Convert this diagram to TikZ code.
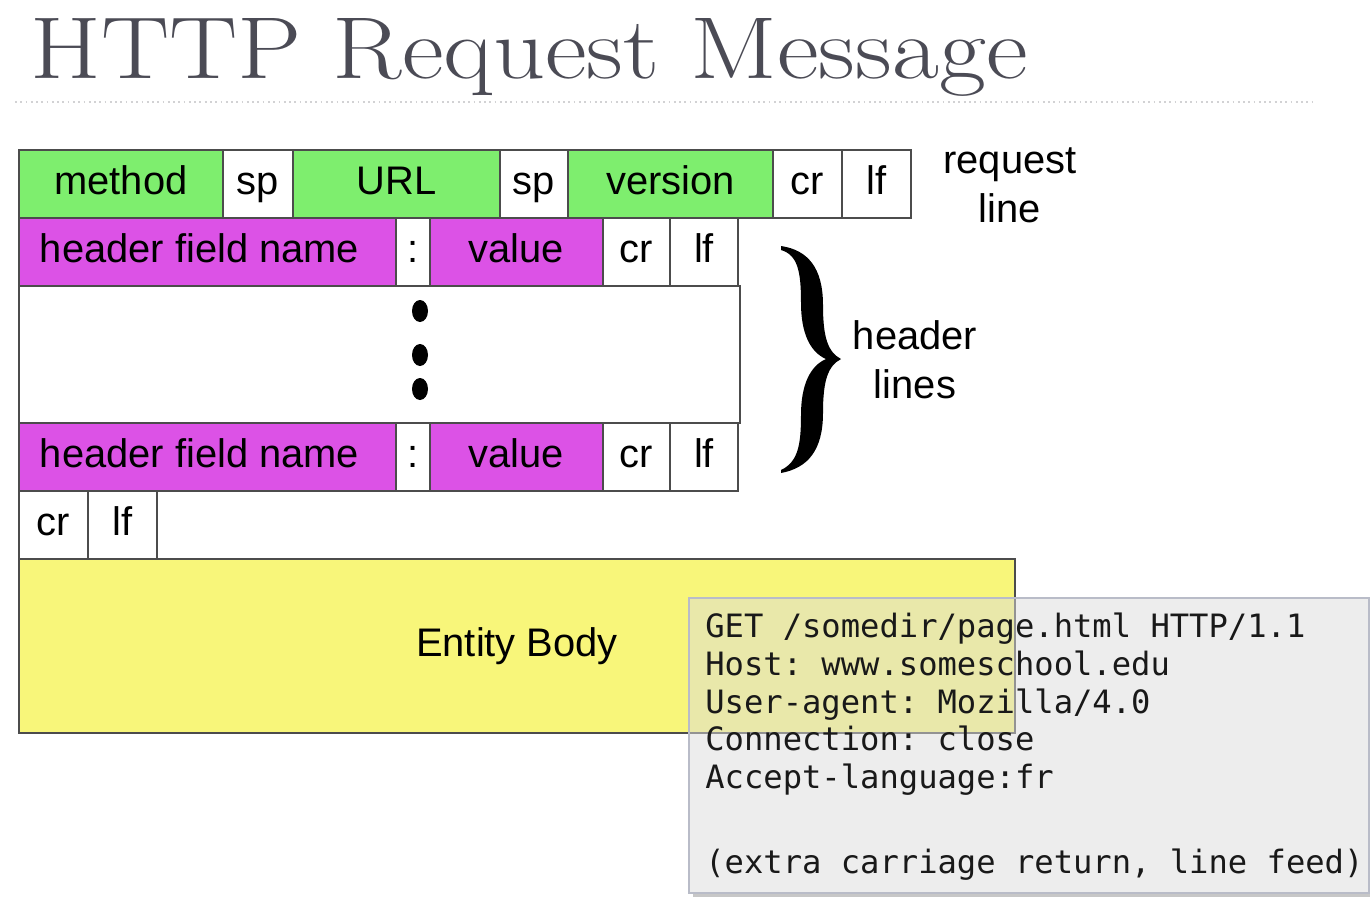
\documentclass[tikz,border=0pt]{standalone}
\usepackage{fontspec}
\usepackage{graphicx}
\newfontfamily\labelfont{Liberation Sans}
\newfontfamily\codefont{DejaVu Sans Mono}
\newcommand\labelsize{\fontsize{22.7}{28.3}\selectfont}
\definecolor{fieldgreen}{RGB}{126,238,110}
\definecolor{fieldpink}{RGB}{220,82,230}
\definecolor{bodyyellow}{RGB}{248,246,122}
\definecolor{titlegray}{RGB}{75,75,85}
\definecolor{codeedge}{RGB}{185,188,200}
\frenchspacing

\begin{document}
\begin{tikzpicture}[x=0.02cm, y=-0.02cm,
    cell/.style={draw=black!70, line width=0.8pt, minimum height=1.36cm,
      inner sep=0pt, outer sep=0pt, anchor=west,
      text height=17pt, text depth=5.2pt, font=\labelfont\labelsize},
    wd/.style={minimum width=#1*0.02cm},
    sidenote/.style={inner sep=0pt, align=center, font=\labelfont\labelsize}]
  \useasboundingbox (0,0) rectangle (1370,904);

  % title and rule
  \node[anchor=base west, inner sep=0pt, text=titlegray,
    font=\fontsize{50}{60}\selectfont] (title) at (30,78)
    {\scalebox{1.163}[1]{HTTP Request Message}};
  \draw[titlegray!25, line width=1pt, dotted] (15,102) -- (1315,102);

  % request line
  \node[cell, wd=204, fill=fieldgreen] (method) at (19,184) {method};
  \node[cell, wd=70] (sp1) at (223,184) {sp};
  \node[cell, wd=207, fill=fieldgreen] (url) at (293,184) {URL};
  \node[cell, wd=68] (sp2) at (500,184) {sp};
  \node[cell, wd=205, fill=fieldgreen] (version) at (568,184) {version};
  \node[cell, wd=69] (cr1) at (773,184) {cr};
  \node[cell, wd=69] (lf1) at (842,184) {lf};
  \node[sidenote, anchor=north] (reqline) at (1010,147) {request\\line};

  % header lines
  \foreach \row/\y in {first/252, last/457} {
    \node[cell, wd=377, fill=fieldpink] (name-\row) at (19,\y) {header field name\kern9pt};
    \node[cell, wd=34] (colon-\row) at (396,\y) {:};
    \node[cell, wd=173, fill=fieldpink] (value-\row) at (430,\y) {value};
    \node[cell, wd=67] (cr-\row) at (603,\y) {cr};
    \node[cell, wd=68] (lf-\row) at (670,\y) {lf};
  }
  \node[draw=black!70, line width=0.8pt, minimum width=721*0.02cm,
    minimum height=137*0.02cm, inner sep=0pt, outer sep=0pt,
    anchor=north west] (more) at (19,286) {};
  \foreach \y in {311,355,389}
    \fill (420,\y) ellipse [x radius=8, y radius=11];

  % brace
  \fill (781,246) .. controls (808,250) and (823,268) .. (823,305)
    .. controls (823,338) and (828,352) .. (841,359)
    .. controls (828,366) and (823,380) .. (823,413)
    .. controls (823,450) and (808,468) .. (781,473) -- (781,470)
    .. controls (798,462) and (801,445) .. (801,415)
    .. controls (801,385) and (810,366) .. (826,359)
    .. controls (810,352) and (801,333) .. (801,303)
    .. controls (801,272) and (798,255) .. (781,250) -- cycle;
  \node[sidenote, anchor=north] (hdrlines) at (915,320) {header\\lines};

  % blank line and body
  \node[cell, wd=69] (cr2) at (19,525) {cr};
  \node[cell, wd=69] (lf2) at (88,525) {lf};
  \node[cell, wd=996, minimum height=174*0.02cm, fill=bodyyellow,
    anchor=north west] (body) at (19,559) {Entity Body};

  % example request
  \fill[black!22] (693,893) rectangle (1370,897);
  \node[fill=black!14, fill opacity=0.5, draw=codeedge, line width=1pt,
    minimum width=680*0.02cm, minimum height=295*0.02cm, inner sep=0pt,
    outer sep=0pt, anchor=north west] (req) at (689,598) {};
  \node[anchor=north west, inner sep=0pt, align=left, text=black!90,
    font=\codefont\fontsize{18.3}{21.5}\selectfont] (reqtext) at (705,612.5)
    {GET /somedir/page.html HTTP/1.1\\
     Host: www.someschool.edu\\
     User-agent: Mozilla/4.0\\
     Connection: close\\
     Accept-language:fr\\[0.94cm]
     (extra carriage return, line feed)};
\end{tikzpicture}
\end{document}
